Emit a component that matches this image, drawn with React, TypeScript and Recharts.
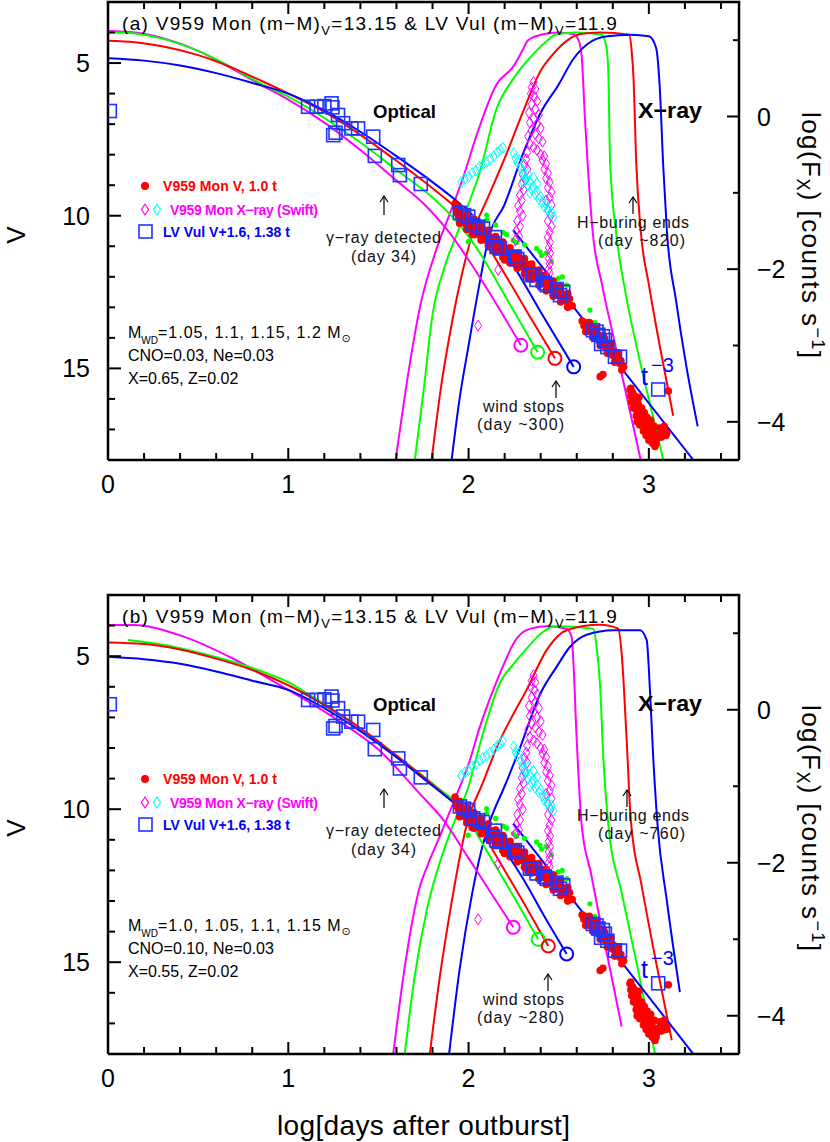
import React from 'react';
import { ComposedChart, Line, Scatter, XAxis, YAxis } from 'recharts';

type Pt = [number, number];

// ---------- axes ----------
const X_TICKS = [0, 0.2, 0.4, 0.6, 0.8, 1, 1.2, 1.4, 1.6, 1.8, 2, 2.2, 2.4, 2.6, 2.8, 3, 3.2, 3.4];
const X_MAJOR = [0, 1, 2, 3];
const V_TICKS = [4, 5, 6, 7, 8, 9, 10, 11, 12, 13, 14, 15, 16, 17];
const V_MAJOR = [5, 10, 15];
const FX_TICKS = [1, 0, -1, -2, -3, -4];
const FX_MAJOR = [0, -2, -4];
const X_MAX = 3.5;

// ---------- panel (a) models ----------
const A_V_MAG: Pt[] = [[0, 3.95], [0.15, 4.0], [0.3, 4.18], [0.5, 4.6], [0.7, 5.22], [0.85, 5.72], [1.0, 6.2], [1.2, 6.95], [1.4, 7.85], [1.6, 8.85], [1.75, 9.6], [1.88, 10.45], [2.0, 11.45], [2.15, 12.85], [2.29, 14.24]];
const A_V_GRN: Pt[] = [[0, 3.99], [0.15, 4.03], [0.3, 4.2], [0.5, 4.6], [0.7, 5.18], [0.85, 5.68], [1.0, 6.1], [1.2, 6.8], [1.4, 7.6], [1.6, 8.5], [1.8, 9.4], [1.95, 10.3], [2.05, 11.1], [2.2, 12.6], [2.383, 14.47]];
const A_V_RED: Pt[] = [[0, 4.27], [0.15, 4.32], [0.3, 4.45], [0.5, 4.74], [0.7, 5.18], [0.85, 5.58], [1.0, 6.0], [1.2, 6.6], [1.4, 7.35], [1.6, 8.2], [1.8, 9.1], [1.95, 9.85], [2.05, 10.5], [2.2, 11.9], [2.35, 13.4], [2.479, 14.67]];
const A_V_BLU: Pt[] = [[0, 4.84], [0.2, 4.92], [0.4, 5.08], [0.6, 5.33], [0.8, 5.65], [1.0, 6.0], [1.2, 6.55], [1.4, 7.25], [1.6, 8.05], [1.8, 8.9], [1.95, 9.6], [2.1, 10.45], [2.25, 11.65], [2.4, 13.15], [2.583, 14.95]];
const A_X_MAG: Pt[] = [[1.595, -4.5], [1.65, -3.6], [1.73, -2.5], [1.82, -1.75], [1.9, -1.25], [1.97, -0.8], [2.044, -0.25], [2.155, 0.42], [2.25, 0.66], [2.3, 0.87], [2.33, 1.0], [2.4, 1.07], [2.5, 1.1], [2.58, 1.08], [2.61, 1.0], [2.627, 0.8], [2.645, 0.0], [2.66, -0.6], [2.688, -1.5], [2.74, -2.2], [2.8, -2.85], [2.88, -3.7], [2.955, -4.5]];
const A_X_GRN: Pt[] = [[1.702, -4.5], [1.75, -3.6], [1.8, -2.6], [1.87, -1.95], [1.95, -1.45], [2.063, -0.72], [2.155, 0.1], [2.25, 0.5], [2.36, 0.82], [2.42, 0.96], [2.49, 1.08], [2.6, 1.1], [2.74, 1.07], [2.765, 0.9], [2.775, 0.6], [2.785, -0.6], [2.82, -1.55], [2.87, -2.3], [2.95, -3.2], [3.02, -3.9], [3.08, -4.5]];
const A_X_RED: Pt[] = [[1.795, -4.5], [1.85, -3.5], [1.9, -2.8], [1.96, -2.1], [2.02, -1.55], [2.1, -1.1], [2.2, -0.55], [2.3, 0.05], [2.4, 0.6], [2.47, 0.82], [2.55, 1.0], [2.62, 1.08], [2.73, 1.1], [2.89, 1.07], [2.905, 0.85], [2.915, 0.5], [2.93, -0.6], [2.955, -1.5], [3.0, -2.2], [3.06, -3.0], [3.135, -3.92]];
const A_X_BLU: Pt[] = [[1.906, -4.5], [1.95, -3.7], [2.0, -3.0], [2.06, -2.2], [2.11, -1.6], [2.2, -1.15], [2.3, -0.5], [2.4, 0.05], [2.5, 0.42], [2.58, 0.75], [2.66, 0.95], [2.77, 1.05], [2.9, 1.07], [3.0, 1.05], [3.04, 0.9], [3.06, 0.4], [3.08, -0.66], [3.1, -1.5], [3.15, -2.4], [3.21, -3.3], [3.271, -4.06]];
const A_WIND_MAG: Pt[] = [[2.29, 14.24]];
const A_WIND_GRN: Pt[] = [[2.383, 14.47]];
const A_WIND_RED: Pt[] = [[2.479, 14.67]];
const A_WIND_BLU: Pt[] = [[2.583, 14.95]];

// ---------- panel (b) models ----------
const B_V_MAG: Pt[] = [[0, 3.98], [0.14, 3.98], [0.42, 4.36], [0.7, 5.1], [0.97, 6.0], [1.25, 7.0], [1.5, 8.05], [1.73, 9.5], [1.86, 10.35], [2.0, 11.6], [2.12, 12.7], [2.248, 13.86]];
const B_V_GRN: Pt[] = [[0.111, 4.47], [0.3, 4.62], [0.5, 4.88], [0.7, 5.2], [0.9, 5.6], [1.0, 5.85], [1.1, 6.2], [1.3, 6.95], [1.5, 7.8], [1.7, 8.7], [1.85, 9.4], [1.95, 9.9], [2.0, 10.35], [2.1, 11.35], [2.25, 12.85], [2.386, 14.25]];
const B_V_RED: Pt[] = [[0, 4.55], [0.2, 4.6], [0.4, 4.78], [0.6, 5.08], [0.8, 5.45], [1.0, 5.95], [1.2, 6.6], [1.4, 7.35], [1.6, 8.25], [1.75, 8.95], [1.9, 9.7], [2.0, 10.2], [2.05, 10.5], [2.15, 11.5], [2.3, 13.0], [2.442, 14.47]];
const B_V_BLU: Pt[] = [[0, 5.02], [0.2, 5.1], [0.4, 5.25], [0.6, 5.5], [0.8, 5.8], [1.0, 6.1], [1.2, 6.7], [1.4, 7.45], [1.6, 8.3], [1.75, 9.0], [1.9, 9.7], [2.0, 10.15], [2.1, 10.65], [2.2, 11.35], [2.3, 12.25], [2.42, 13.5], [2.544, 14.73]];
const B_X_MAG: Pt[] = [[1.582, -4.5], [1.65, -3.3], [1.73, -2.31], [1.77, -2.05], [1.85, -1.6], [1.915, -1.22], [2.007, -0.66], [2.063, -0.22], [2.137, 0.26], [2.2, 0.62], [2.25, 0.87], [2.322, 1.04], [2.433, 1.09], [2.544, 1.06], [2.572, 0.95], [2.58, 0.69], [2.6, -0.4], [2.627, -1.5], [2.68, -2.15], [2.729, -2.75], [2.79, -3.45], [2.849, -4.14]];
const B_X_GRN: Pt[] = [[1.646, -4.5], [1.7, -3.5], [1.77, -2.6], [1.84, -2.0], [1.915, -1.5], [2.0, -1.0], [2.063, -0.45], [2.174, 0.35], [2.25, 0.6], [2.322, 0.8], [2.414, 1.02], [2.488, 1.09], [2.692, 1.06], [2.71, 0.82], [2.73, 0.3], [2.747, -0.61], [2.775, -1.5], [2.85, -2.4], [2.94, -3.4], [3.034, -4.5]];
const B_X_RED: Pt[] = [[1.785, -4.5], [1.84, -3.5], [1.9, -2.6], [1.99, -1.5], [2.08, -0.95], [2.174, -0.4], [2.25, -0.05], [2.322, 0.26], [2.433, 0.78], [2.544, 1.04], [2.729, 1.11], [2.83, 1.06], [2.849, 0.74], [2.877, -0.4], [2.9, -1.45], [2.96, -2.3], [3.04, -3.3], [3.127, -4.32]];
const B_X_BLU: Pt[] = [[1.892, -4.5], [1.95, -3.4], [2.02, -2.4], [2.07, -1.85], [2.12, -1.45], [2.2, -1.0], [2.285, -0.5], [2.396, 0.2], [2.488, 0.56], [2.562, 0.82], [2.655, 0.98], [2.803, 1.04], [2.951, 1.04], [2.988, 0.91], [3.006, 0.26], [3.024, -0.61], [3.048, -1.5], [3.1, -2.5], [3.172, -3.69]];
const B_WIND_MAG: Pt[] = [[2.248, 13.86]];
const B_WIND_GRN: Pt[] = [[2.386, 14.25]];
const B_WIND_RED: Pt[] = [[2.442, 14.47]];
const B_WIND_BLU: Pt[] = [[2.544, 14.73]];

// t^-3 power-law line
const T_MINUS3: Pt[] = [[2.248, 10.47], [3.247, 18.0]];

// ---------- observations ----------
const V959_V: Pt[] = [
  [1.925, 9.6], [1.93, 9.72], [1.935, 9.9], [1.94, 9.8], [1.945, 10.02], [1.95, 9.88], [1.955, 10.1], [1.96, 9.95], [1.965, 10.2], [1.97, 10.02],
  [1.978, 10.25], [1.985, 10.08], [1.992, 10.32], [2.0, 10.15], [2.008, 10.4], [2.015, 10.22], [2.022, 10.46], [2.03, 10.3], [2.038, 10.55], [2.045, 10.36],
  [2.052, 10.6], [2.06, 10.42], [2.068, 10.68], [2.075, 10.5], [2.083, 10.74], [2.09, 10.56], [2.098, 10.8], [2.105, 10.62], [2.113, 10.88], [2.12, 10.7],
  [2.128, 10.94], [2.135, 10.76], [2.143, 11.0], [2.15, 10.84], [2.158, 11.08], [2.165, 10.9], [2.173, 11.14], [2.18, 10.96], [2.188, 11.2], [2.195, 11.03],
  [2.203, 11.28], [2.21, 11.1], [2.218, 11.34], [2.225, 11.16], [2.233, 11.4], [2.24, 11.22], [2.248, 11.46], [2.255, 11.3], [2.263, 11.52], [2.27, 11.36],
  [2.278, 11.6], [2.285, 11.42], [2.293, 11.66], [2.3, 11.5], [2.308, 11.72], [2.315, 11.56], [2.323, 11.8], [2.33, 11.62], [2.338, 11.86], [2.345, 11.7],
  [2.353, 11.92], [2.36, 11.76], [2.368, 12.0], [2.375, 11.84], [2.383, 12.06], [2.39, 11.9], [2.398, 12.12], [2.405, 11.96], [2.413, 12.2], [2.42, 12.04],
  [2.428, 12.26], [2.435, 12.1], [2.443, 12.32], [2.45, 12.16], [2.458, 12.4], [2.465, 12.24], [2.473, 12.46], [2.48, 12.3], [2.488, 12.52], [2.495, 12.38],
  [2.503, 12.6], [2.51, 12.46], [2.52, 12.7], [2.53, 12.58], [2.545, 12.82], [2.56, 12.72], [2.575, 12.95], [2.02, 10.6], [2.2, 11.45], [2.33, 12.05],
  [1.95, 9.75], [1.99, 9.95], [2.03, 10.12], [2.07, 10.3], [2.11, 10.48], [2.15, 10.68], [2.19, 10.86], [2.23, 11.05], [2.27, 11.22], [2.31, 11.4],
  [2.35, 11.58], [2.39, 11.78], [2.43, 11.96], [2.47, 12.14], [2.51, 12.32], [2.55, 12.55],
  [1.95, 10.25], [1.99, 10.45], [2.03, 10.62], [2.07, 10.8], [2.11, 10.98], [2.15, 11.18], [2.19, 11.36], [2.23, 11.55], [2.27, 11.72], [2.31, 11.9],
  [2.35, 12.08], [2.39, 12.28], [2.43, 12.46], [2.47, 12.64], [2.51, 12.82], [2.55, 13.0],
  [2.63, 13.45], [2.64, 13.6], [2.645, 13.5], [2.66, 13.7], [2.665, 13.58], [2.68, 13.82], [2.685, 13.68], [2.7, 13.95], [2.705, 13.8], [2.72, 14.05],
  [2.725, 13.92], [2.74, 14.2], [2.745, 14.05], [2.76, 14.3], [2.765, 14.18], [2.78, 14.45], [2.785, 14.3], [2.8, 14.58], [2.805, 14.45], [2.82, 14.72],
  [2.825, 14.6], [2.84, 14.85], [2.845, 14.75], [2.86, 14.95], [2.73, 15.27],
  [2.65, 13.8], [2.67, 13.5], [2.69, 14.0], [2.71, 13.7], [2.73, 14.25], [2.75, 13.95], [2.77, 14.5], [2.79, 14.2], [2.81, 14.8], [2.83, 14.5],
  [2.85, 15.05], [2.745, 15.2],
  [2.895, 15.7], [2.9, 15.9], [2.91, 15.8], [2.91, 16.05], [2.92, 16.2], [2.925, 15.95], [2.93, 16.35], [2.935, 16.1], [2.94, 16.5], [2.945, 16.25],
  [2.95, 16.6], [2.955, 16.4], [2.96, 16.75], [2.965, 16.55], [2.97, 16.85], [2.975, 16.65], [2.98, 16.95], [2.985, 16.75], [2.99, 17.05], [2.995, 16.85],
  [3.0, 17.15], [3.005, 16.95], [3.01, 17.25], [3.02, 17.1], [3.025, 17.35], [3.035, 17.2], [3.04, 17.45], [3.06, 16.95], [3.075, 17.0], [3.09, 17.05],
  [3.1, 17.1], [3.034, 17.56], [3.108, 15.74],
  [2.9, 15.65], [2.905, 16.1], [2.915, 16.3], [2.92, 15.9], [2.93, 16.55], [2.94, 16.15], [2.95, 16.85], [2.96, 16.3], [2.97, 17.05], [2.975, 16.45],
  [2.985, 17.2], [2.99, 16.6], [3.0, 17.35], [3.01, 16.7], [3.02, 17.45], [3.03, 16.9], [3.045, 17.3], [3.055, 17.15], [3.07, 17.25], [3.085, 16.9],
  [3.095, 17.2], [2.945, 15.95], [2.935, 16.75],
];
const V959_OTHER: Pt[] = [
  [1.96, 9.72], [1.998, 10.85], [2.03, 10.05], [2.1, 9.98], [2.1, 10.14], [2.15, 10.3], [2.192, 10.55], [2.211, 10.62], [2.248, 10.8], [2.266, 10.88],
  [2.31, 10.95], [2.377, 11.07], [2.396, 11.18], [2.405, 11.3], [2.43, 11.22], [2.46, 11.5], [2.497, 12.05], [2.52, 12.0], [2.544, 12.27], [2.673, 13.09],
  [2.7, 13.5], [2.75, 13.9],
];
const SWIFT_A: Pt[] = [
  [2.36, 0.45], [2.35, 0.38], [2.37, 0.36], [2.345, 0.3], [2.365, 0.26], [2.38, 0.2], [2.35, 0.16], [2.37, 0.1], [2.335, 0.05], [2.39, 0.02],
  [2.36, -0.03], [2.34, -0.08], [2.38, -0.1], [2.4, -0.15], [2.35, -0.18], [2.37, -0.23], [2.33, -0.26], [2.39, -0.29], [2.41, -0.33], [2.34, -0.36],
  [2.36, -0.4], [2.38, -0.44], [2.325, -0.47], [2.4, -0.5], [2.42, -0.52],
  [2.32, -0.56], [2.31, -0.63], [2.325, -0.69], [2.3, -0.76], [2.315, -0.83], [2.295, -0.89], [2.305, -0.96], [2.285, -1.03], [2.295, -1.1], [2.275, -1.17],
  [2.285, -1.24], [2.3, -1.3], [2.27, -1.37], [2.285, -1.44], [2.265, -1.5], [2.28, -1.57],
  [2.41, -0.57], [2.43, -0.62], [2.42, -0.69], [2.44, -0.74], [2.43, -0.81], [2.45, -0.86], [2.44, -0.93], [2.46, -0.99], [2.45, -1.06], [2.43, -1.1],
  [2.46, -1.16], [2.44, -1.23], [2.455, -1.3], [2.44, -1.37], [2.46, -1.44], [2.45, -1.51], [2.44, -1.58], [2.452, -1.65], [2.445, -1.72], [2.452, -1.79],
  [2.445, -1.86], [2.45, -1.93], [2.445, -2.0], [2.45, -2.05],
  [2.164, -2.01], [2.053, -2.74], [2.26, -1.62],
];
const SWIFT_B: Pt[] = [
  [1.96, -0.86], [1.98, -0.82], [2.0, -0.79], [2.02, -0.74], [2.04, -0.71], [2.06, -0.66], [2.08, -0.63], [2.1, -0.6], [2.12, -0.56], [2.14, -0.52],
  [2.16, -0.47], [2.175, -0.44], [2.19, -0.41],
  [2.25, -0.48], [2.26, -0.55], [2.27, -0.6], [2.28, -0.57], [2.29, -0.67], [2.3, -0.72], [2.31, -0.78], [2.3, -0.85], [2.32, -0.82], [2.33, -0.9],
  [2.34, -0.85], [2.35, -0.95], [2.34, -1.0], [2.36, -0.92], [2.37, -1.02], [2.38, -0.98], [2.39, -1.08], [2.4, -1.05], [2.41, -1.12], [2.42, -1.18],
  [2.43, -1.15], [2.44, -1.22], [2.45, -1.28], [2.46, -1.25], [2.47, -1.32], [2.36, -0.8], [2.33, -0.75], [2.38, -0.88],
];
const LV_VUL: Pt[] = [
  [0.01, 6.57], [1.11, 6.43], [1.157, 6.43], [1.2, 6.41], [1.24, 6.32], [1.245, 6.45], [1.249, 7.36], [1.262, 7.28], [1.276, 6.7], [1.304, 6.97],
  [1.35, 7.14], [1.387, 7.14], [1.471, 7.41], [1.48, 8.04], [1.61, 8.34], [1.619, 8.67], [1.735, 8.96],
  [1.952, 9.91], [1.975, 9.98], [1.998, 10.03], [2.026, 10.3], [2.053, 10.36], [2.08, 10.42], [2.137, 10.9], [2.146, 10.7], [2.155, 11.02],
  [2.174, 11.07], [2.257, 11.34], [2.27, 11.42], [2.34, 11.94], [2.359, 11.94], [2.377, 12.1], [2.423, 12.21], [2.433, 12.27], [2.488, 12.4],
  [2.507, 12.6], [2.525, 12.49],
  [2.69, 13.75], [2.71, 13.8], [2.72, 13.9], [2.745, 13.95], [2.756, 14.07], [2.735, 14.2], [2.77, 14.3], [2.812, 14.62], [2.84, 14.62], [3.052, 15.69],
];

// ---------- styling / layout ----------
const MAG = '#ff00ff';
const GRN = '#00ff00';
const RED = '#ff0000';
const BLU = '#0000ff';
const CYN = '#00ffff';
const SQ = '#2233ff';
const FONT = '"Liberation Sans", Arial, sans-serif';
const AX = { stroke: '#000', strokeWidth: 2.5 };
const CHART_W = 830;
const LEFT_W = 108;
const RIGHT_W = 91;
const TOP_M = 2;
const PLOT_W = CHART_W - LEFT_W - RIGHT_W;

const xy = (a: Pt[]) => a.map(([x, y]) => ({ x, y }));
const isMajor = (v: number, m: number[]) => m.some((q) => Math.abs(q - v) < 1e-6);
const fmt = (v: number) => (v < 0 ? '\u2212' + Math.abs(v) : String(v));

const BottomTick = (p: any) => {
  const v = p.payload.value;
  const M = isMajor(v, X_MAJOR);
  return (
    <g>
      <line x1={p.x} x2={p.x} y1={p.y} y2={p.y - (M ? 12 : 7)} stroke="#000" strokeWidth={2} />
      {M && <text x={p.x} y={p.y + 33} textAnchor="middle" fontSize={25} fontFamily={FONT} fill="#000">{fmt(v)}</text>}
    </g>
  );
};
const LeftTick = (p: any) => {
  const v = p.payload.value;
  const M = isMajor(v, V_MAJOR);
  return (
    <g>
      <line x1={p.x} x2={p.x + (M ? 13 : 7)} y1={p.y} y2={p.y} stroke="#000" strokeWidth={2} />
      {M && <text x={p.x - 18} y={p.y + 9} textAnchor="end" fontSize={25} fontFamily={FONT} fill="#000">{fmt(v)}</text>}
    </g>
  );
};
const RightTick = (p: any) => {
  const v = p.payload.value;
  const M = isMajor(v, FX_MAJOR);
  return (
    <g>
      <line x1={p.x} x2={p.x - (M ? 12 : 6)} y1={p.y} y2={p.y} stroke="#000" strokeWidth={2} />
      {M && <text x={p.x + 18} y={p.y + 9} textAnchor="start" fontSize={25} fontFamily={FONT} fill="#000">{fmt(v)}</text>}
    </g>
  );
};

const redDot = (p: any) => <circle cx={p.cx} cy={p.cy} r={3.8} fill={RED} />;
const grnDot = (p: any) => <circle cx={p.cx} cy={p.cy} r={2.6} fill={GRN} />;
const diamond = (c: string) => (p: any) => (
  <path d={`M${p.cx},${p.cy - 5.5}L${p.cx + 3.5},${p.cy}L${p.cx},${p.cy + 5.5}L${p.cx - 3.5},${p.cy}Z`} fill="none" stroke={c} strokeWidth={1} />
);
const square = (p: any) => <rect x={p.cx - 6.5} y={p.cy - 6.5} width={13} height={13} fill="none" stroke={SQ} strokeWidth={1.6} />;
const ring = (c: string) => (p: any) => <circle cx={p.cx} cy={p.cy} r={6.5} fill="none" stroke={c} strokeWidth={2} />;

type PanelData = {
  v: Pt[][];
  x: Pt[][];
  wind: Pt[][];
};
const PANEL_A: PanelData = {
  v: [A_V_MAG, A_V_GRN, A_V_RED, A_V_BLU],
  x: [A_X_MAG, A_X_GRN, A_X_RED, A_X_BLU],
  wind: [A_WIND_MAG, A_WIND_GRN, A_WIND_RED, A_WIND_BLU],
};
const PANEL_B: PanelData = {
  v: [B_V_MAG, B_V_GRN, B_V_RED, B_V_BLU],
  x: [B_X_MAG, B_X_GRN, B_X_RED, B_X_BLU],
  wind: [B_WIND_MAG, B_WIND_GRN, B_WIND_RED, B_WIND_BLU],
};
const MODEL_COLORS = [MAG, GRN, RED, BLU];

function Panel({ d, height }: { d: PanelData; height: number }) {
  return (
    <ComposedChart width={CHART_W} height={height} margin={{ top: TOP_M, right: 0, bottom: 0, left: 0 }}>
      <XAxis dataKey="x" type="number" domain={[0, X_MAX]} ticks={X_TICKS} interval={0} tick={BottomTick}
        tickSize={0} tickMargin={0} tickLine={false} axisLine={AX} height={40} allowDataOverflow />
      <YAxis yAxisId="v" dataKey="y" type="number" domain={[3, 18]} reversed ticks={V_TICKS} interval={0} tick={LeftTick}
        tickSize={0} tickMargin={0} tickLine={false} axisLine={AX} width={LEFT_W} allowDataOverflow />
      <YAxis yAxisId="fx" orientation="right" dataKey="y" type="number" domain={[-4.5, 1.5]} ticks={FX_TICKS} interval={0}
        tick={RightTick} tickSize={0} tickMargin={0} tickLine={false} axisLine={AX} width={RIGHT_W} allowDataOverflow />

      {d.x.map((c, i) => (
        <Line key={'x' + i} data={xy(c)} dataKey="y" yAxisId="fx" type="monotone" stroke={MODEL_COLORS[i]} strokeWidth={2}
          dot={false} activeDot={false} isAnimationActive={false} />
      ))}
      <Scatter data={xy(V959_OTHER)} yAxisId="v" shape={grnDot} isAnimationActive={false} />
      <Scatter data={xy(V959_V)} yAxisId="v" shape={redDot} isAnimationActive={false} />
      {d.v.map((c, i) => (
        <Line key={'v' + i} data={xy(c)} dataKey="y" yAxisId="v" type="monotone" stroke={MODEL_COLORS[i]} strokeWidth={2}
          dot={false} activeDot={false} isAnimationActive={false} />
      ))}
      <Line data={xy(T_MINUS3)} dataKey="y" yAxisId="v" type="linear" stroke={BLU} strokeWidth={2}
        dot={false} activeDot={false} isAnimationActive={false} />
      <Scatter data={xy(SWIFT_A)} yAxisId="fx" shape={diamond(MAG)} isAnimationActive={false} />
      <Scatter data={xy(SWIFT_B)} yAxisId="fx" shape={diamond(CYN)} isAnimationActive={false} />
      <Scatter data={xy(LV_VUL)} yAxisId="v" shape={square} isAnimationActive={false} />
      {d.wind.map((c, i) => (
        <Scatter key={'w' + i} data={xy(c)} yAxisId="v" shape={ring(MODEL_COLORS[i])} isAnimationActive={false} />
      ))}
    </ComposedChart>
  );
}

// top frame edge with its inward ticks (axis decoration)
function TopFrame({ top }: { top: number }) {
  const y = top + TOP_M;
  return (
    <g stroke="#000">
      <line x1={LEFT_W - 1.25} x2={LEFT_W + PLOT_W + 1.25} y1={y} y2={y} strokeWidth={2.5} />
      {X_TICKS.map((t) => {
        const px = LEFT_W + (t / X_MAX) * PLOT_W;
        return <line key={t} x1={px} x2={px} y1={y} y2={y + (isMajor(t, X_MAJOR) ? 12 : 7)} strokeWidth={2} />;
      })}
    </g>
  );
}

function UpArrow({ x, y1, y2 }: { x: number; y1: number; y2: number }) {
  return (
    <g stroke="#000" strokeWidth={1.2} fill="none">
      <line x1={x} y1={y2} x2={x} y2={y1} />
      <path d={`M${x - 4},${y1 + 6}L${x},${y1}L${x + 4},${y1 + 6}`} />
    </g>
  );
}

type Ann = { dy: number; letter: string; mwd: string; cno: string; xz: string; hday: string; wday: string; hx: number; wx: number };
const ANN_A: Ann = { dy: 0, letter: 'a', mwd: '=1.05, 1.1, 1.15, 1.2 M', cno: 'CNO=0.03, Ne=0.03', xz: 'X=0.65, Z=0.02', hday: '(day ~820)', wday: '(day ~300)', hx: 633, wx: 556 };
const ANN_B: Ann = { dy: 593, letter: 'b', mwd: '=1.0, 1.05, 1.1, 1.15 M', cno: 'CNO=0.10, Ne=0.03', xz: 'X=0.55, Z=0.02', hday: '(day ~760)', wday: '(day ~280)', hx: 627, wx: 548 };

function Annotations({ a }: { a: Ann }) {
  const o = a.dy;
  return (
    <g fontFamily={FONT}>
      <TopFrame top={o} />
      <text x={122} y={30 + o} fontSize={19} letterSpacing={1.3} fill="#000">
        ({a.letter}) V959 Mon (m{'\u2212'}M)<tspan fontSize={13} dy={5}>V</tspan>
        <tspan dy={-5}>=13.15 &amp; LV Vul (m{'\u2212'}M)</tspan>
        <tspan fontSize={13} dy={5}>V</tspan>
        <tspan dy={-5}>=11.9</tspan>
      </text>
      <text x={373} y={118 + o} fontSize={19} fontWeight="bold" textLength={63} lengthAdjust="spacingAndGlyphs">Optical</text>
      <text x={638} y={118 + o} fontSize={22} fontWeight="bold" textLength={64} lengthAdjust="spacingAndGlyphs">X{'\u2212'}ray</text>

      <circle cx={145} cy={186 + o} r={4} fill={RED} />
      <text x={163} y={191 + o} fontSize={14} fontWeight="bold" fill={RED} textLength={114}>V959 Mon V, 1.0 t</text>
      <path d={`M145,${204 + o}L148.5,${209.5 + o}L145,${215 + o}L141.5,${209.5 + o}Z`} fill="none" stroke={MAG} strokeWidth={1.2} />
      <path d={`M157,${204 + o}L160.5,${209.5 + o}L157,${215 + o}L153.5,${209.5 + o}Z`} fill="none" stroke={CYN} strokeWidth={1.2} />
      <text x={170} y={215 + o} fontSize={14} fontWeight="bold" fill={MAG} textLength={148}>V959 Mon X{'\u2212'}ray (Swift)</text>
      <rect x={139} y={225 + o} width={13} height={13} fill="none" stroke={SQ} strokeWidth={1.6} />
      <text x={163} y={237 + o} fontSize={14} fontWeight="bold" fill={BLU} textLength={127}>LV Vul V+1.6, 1.38 t</text>

      <UpArrow x={384} y1={196 + o} y2={215 + o} />
      <text x={326} y={243 + o} fontSize={16} fill="#111" textLength={115}>{'\u03b3\u2212'}ray detected</text>
      <text x={351} y={262 + o} fontSize={16} fill="#111" textLength={65}>(day 34)</text>

      <UpArrow x={a.hx} y1={197 + o} y2={214 + o} />
      <text x={577} y={228 + o} fontSize={16} fill="#111" textLength={112}>H{'\u2212'}buring ends</text>
      <text x={598} y={246 + o} fontSize={16} fill="#111" textLength={87}>{a.hday}</text>

      <UpArrow x={a.wx} y1={381 + o} y2={398 + o} />
      <text x={483} y={412 + o} fontSize={16} fill="#111" textLength={81}>wind stops</text>
      <text x={477} y={430 + o} fontSize={16} fill="#111" textLength={87}>{a.wday}</text>

      <text x={641} y={385 + o} fontSize={25} fill={BLU}>t</text>
      <text x={651} y={372 + o} fontSize={20} fill={BLU}>{'\u2212'}3</text>

      <text x={128} y={338 + o} fontSize={16} fill="#000">
        M<tspan fontSize={10} dy={6}>WD</tspan>
        <tspan dy={-6} letterSpacing={1}>{a.mwd}</tspan>
        <tspan fontSize={11} dy={4} fontFamily="DejaVu Sans">{'\u2299'}</tspan>
      </text>
      <text x={128} y={361 + o} fontSize={16} fill="#000">{a.cno}</text>
      <text x={128} y={384 + o} fontSize={16} fill="#000">{a.xz}</text>

      <text transform={`translate(25,${235 + o}) rotate(-90)`} textAnchor="middle" fontSize={26} fill="#000">V</text>
      <text transform={`translate(802,${235 + o}) rotate(90)`} textAnchor="middle" fontSize={26} fill="#000" textLength={246}>
        log(F<tspan fontSize={18} dy={5}>X</tspan><tspan dy={-5}>) [counts s</tspan><tspan fontSize={18} dy={-10}>{'\u2212'}1</tspan><tspan dy={10}>]</tspan>
      </text>
    </g>
  );
}

export default function App() {
  return (
    <div style={{ position: 'absolute', left: 0, top: 0, width: 830, height: 1142, background: '#fff', overflow: 'hidden' }}>
      <div style={{ position: 'absolute', left: 0, top: 0 }}>
        <Panel d={PANEL_A} height={500} />
      </div>
      <div style={{ position: 'absolute', left: 0, top: 593 }}>
        <Panel d={PANEL_B} height={501} />
      </div>
      <svg style={{ position: 'absolute', left: 0, top: 0, pointerEvents: 'none' }} width={830} height={1142}>
        <Annotations a={ANN_A} />
        <Annotations a={ANN_B} />
        <text x={277} y={1135} fontFamily={FONT} fontSize={28} fill="#000" textLength={293}>log[days after outburst]</text>
      </svg>
    </div>
  );
}
